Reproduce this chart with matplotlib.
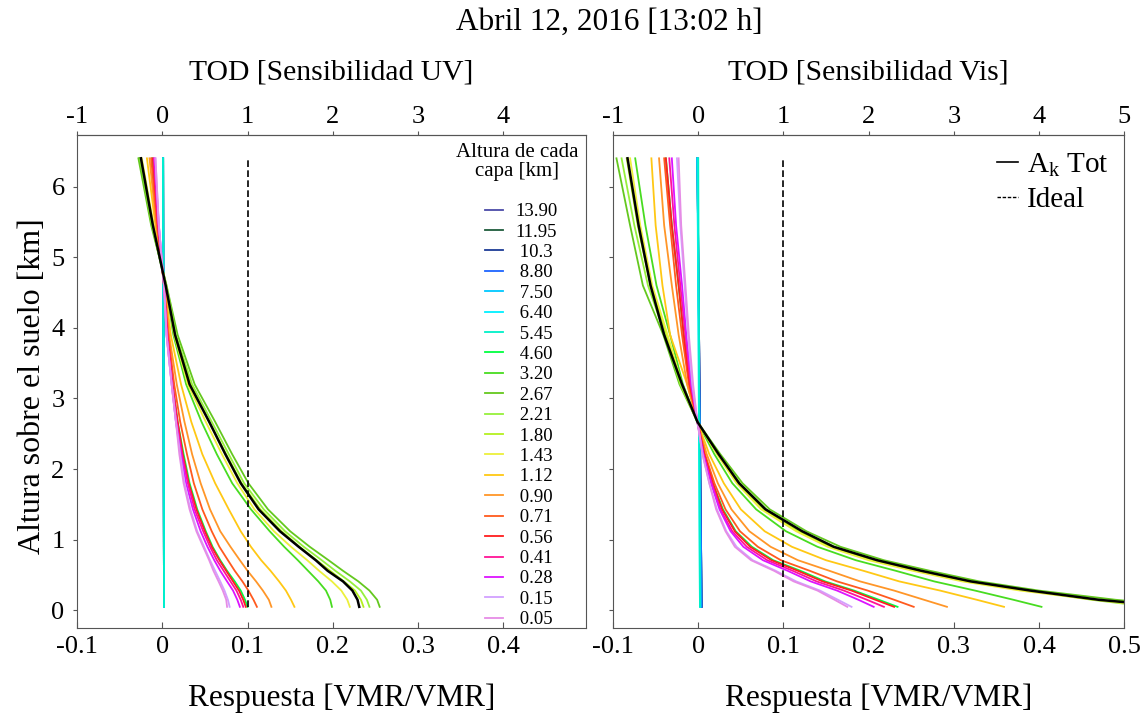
import matplotlib
matplotlib.use('Agg')
import matplotlib.pyplot as plt
from matplotlib.lines import Line2D

plt.rcParams['font.family'] = ['Liberation Serif', 'DejaVu Serif']
plt.rcParams['axes.unicode_minus'] = False
plt.rcParams['mathtext.fontset'] = 'custom'
plt.rcParams['mathtext.rm'] = 'Liberation Serif'

# alturas de la malla (km), de abajo hacia arriba
alt = [0.05, 0.15, 0.28, 0.41, 0.56, 0.71, 0.90, 1.12, 1.43, 1.80, 2.21, 2.67, 3.20, 3.90, 4.60, 5.45, 6.40]
alt_ends = [0.05, 6.40]

# capas (orden de la leyenda)
layers = ['13.90', '11.95', '10.3', '8.80', '7.50', '6.40', '5.45', '4.60', '3.20', '2.67', '2.21',
          '1.80', '1.43', '1.12', '0.90', '0.71', '0.56', '0.41', '0.28', '0.15', '0.05']
colors = ['#4b4ba8', '#1e5c3c', '#1c3c96', '#1e64ff', '#00c8ff', '#00f0ff', '#00f0c8', '#00ff40',
          '#48dc20', '#64c81e', '#96f03c', '#b4f020', '#ecf03c', '#ffc814', '#ff9628', '#ff5a1e',
          '#ff1e1e', '#ff1496', '#dc14ff', '#d2a0ff', '#e68ce6']

# capas altas: casi rectas verticales (valor abajo, valor arriba)
uv_high = [[0.002, 0.001], [0.002, 0.001], [0.002, 0.001], [0.002, 0.001],
           [0.002, 0.001], [0.002, 0.001], [0.002, 0.001]]
vis_high = [[0.004, -0.001], [0.004, -0.001], [0.004, -0.001], [0.004, -0.001],
            [0.003, -0.001], [0.002, -0.001], [0.002, 0.000]]

# capas bajas, 4.60 ... 0.05 (sobre alt)
uv_low = [
    [0.100, 0.097, 0.092, 0.085, 0.076, 0.068, 0.059, 0.051, 0.041, 0.032, 0.025, 0.018, 0.012, 0.006, 0.002, -0.005, -0.012],
    [0.199, 0.197, 0.192, 0.183, 0.171, 0.159, 0.143, 0.126, 0.104, 0.082, 0.064, 0.046, 0.028, 0.013, 0.004, -0.012, -0.027],
    [0.255, 0.252, 0.243, 0.230, 0.212, 0.195, 0.173, 0.150, 0.124, 0.101, 0.082, 0.062, 0.038, 0.018, 0.005, -0.013, -0.028],
    [0.243, 0.240, 0.233, 0.220, 0.203, 0.187, 0.166, 0.144, 0.119, 0.096, 0.078, 0.058, 0.035, 0.016, 0.005, -0.012, -0.026],
    [0.236, 0.233, 0.226, 0.213, 0.197, 0.181, 0.161, 0.140, 0.115, 0.093, 0.075, 0.055, 0.033, 0.015, 0.004, -0.011, -0.025],
    [0.220, 0.217, 0.210, 0.199, 0.184, 0.170, 0.151, 0.131, 0.108, 0.088, 0.070, 0.051, 0.030, 0.014, 0.004, -0.010, -0.024],
    [0.155, 0.151, 0.145, 0.137, 0.127, 0.116, 0.104, 0.092, 0.078, 0.062, 0.047, 0.034, 0.022, 0.010, 0.003, -0.008, -0.018],
    [0.128, 0.125, 0.118, 0.110, 0.100, 0.091, 0.080, 0.068, 0.056, 0.045, 0.035, 0.026, 0.017, 0.008, 0.003, -0.007, -0.015],
    [0.111, 0.107, 0.101, 0.094, 0.085, 0.077, 0.067, 0.058, 0.047, 0.037, 0.029, 0.021, 0.014, 0.007, 0.002, -0.006, -0.013],
    [0.098, 0.095, 0.090, 0.083, 0.075, 0.067, 0.058, 0.050, 0.040, 0.031, 0.024, 0.018, 0.012, 0.006, 0.002, -0.005, -0.011],
    [0.095, 0.092, 0.087, 0.080, 0.072, 0.064, 0.056, 0.048, 0.038, 0.030, 0.023, 0.017, 0.012, 0.006, 0.002, -0.005, -0.010],
    [0.091, 0.088, 0.083, 0.076, 0.068, 0.061, 0.053, 0.045, 0.036, 0.028, 0.022, 0.016, 0.011, 0.005, 0.002, -0.004, -0.009],
    [0.079, 0.077, 0.073, 0.068, 0.062, 0.056, 0.049, 0.041, 0.033, 0.026, 0.021, 0.016, 0.011, 0.005, 0.002, -0.004, -0.008],
    [0.076, 0.075, 0.071, 0.066, 0.060, 0.055, 0.048, 0.040, 0.032, 0.025, 0.020, 0.016, 0.011, 0.005, 0.002, -0.004, -0.008],
]
uv_tot = [0.231, 0.229, 0.223, 0.212, 0.194, 0.180, 0.160, 0.138, 0.113, 0.092, 0.074, 0.055, 0.032, 0.015, 0.004, -0.011, -0.025]

vis_low = [
    [0.234, 0.212, 0.183, 0.149, 0.120, 0.088, 0.063, 0.044, 0.029, 0.017, 0.007, -0.001, -0.010, -0.017, -0.023, -0.031, -0.038],
    [0.403, 0.370, 0.325, 0.277, 0.232, 0.185, 0.140, 0.103, 0.068, 0.040, 0.019, -0.001, -0.018, -0.033, -0.049, -0.062, -0.074],
    [0.580, 0.490, 0.400, 0.330, 0.272, 0.218, 0.167, 0.127, 0.084, 0.052, 0.026, -0.001, -0.022, -0.041, -0.065, -0.080, -0.096],
    [0.530, 0.462, 0.388, 0.321, 0.263, 0.210, 0.160, 0.121, 0.080, 0.049, 0.024, -0.001, -0.021, -0.039, -0.059, -0.075, -0.090],
    [0.548, 0.470, 0.384, 0.315, 0.257, 0.205, 0.156, 0.118, 0.077, 0.047, 0.023, -0.001, -0.020, -0.037, -0.056, -0.071, -0.084],
    [0.540, 0.465, 0.378, 0.310, 0.252, 0.200, 0.152, 0.115, 0.074, 0.045, 0.022, -0.001, -0.019, -0.036, -0.054, -0.068, -0.080],
    [0.359, 0.327, 0.284, 0.236, 0.194, 0.150, 0.110, 0.078, 0.050, 0.030, 0.013, -0.001, -0.013, -0.033, -0.042, -0.050, -0.055],
    [0.292, 0.265, 0.230, 0.190, 0.154, 0.117, 0.085, 0.060, 0.039, 0.023, 0.010, -0.001, -0.013, -0.023, -0.031, -0.040, -0.046],
    [0.253, 0.230, 0.199, 0.163, 0.131, 0.097, 0.070, 0.049, 0.032, 0.019, 0.008, -0.001, -0.011, -0.019, -0.026, -0.033, -0.040],
    [0.230, 0.208, 0.180, 0.146, 0.117, 0.086, 0.061, 0.043, 0.028, 0.017, 0.007, -0.001, -0.010, -0.017, -0.023, -0.031, -0.038],
    [0.218, 0.198, 0.171, 0.139, 0.111, 0.081, 0.057, 0.040, 0.026, 0.016, 0.006, -0.001, -0.009, -0.015, -0.021, -0.028, -0.034],
    [0.206, 0.188, 0.163, 0.132, 0.105, 0.076, 0.053, 0.038, 0.025, 0.015, 0.006, -0.001, -0.008, -0.014, -0.019, -0.026, -0.031],
    [0.180, 0.164, 0.143, 0.115, 0.091, 0.064, 0.045, 0.033, 0.022, 0.013, 0.005, -0.001, -0.007, -0.012, -0.016, -0.021, -0.025],
    [0.175, 0.160, 0.140, 0.112, 0.089, 0.062, 0.043, 0.032, 0.021, 0.013, 0.005, -0.001, -0.006, -0.011, -0.015, -0.020, -0.023],
]
vis_tot = [0.560, 0.470, 0.390, 0.320, 0.262, 0.210, 0.159, 0.122, 0.079, 0.048, 0.024, -0.001, -0.019, -0.040, -0.056, -0.070, -0.083]

ideal_x = [0.1, 0.1]

uv_xticks = [-0.1, 0, 0.1, 0.2, 0.3, 0.4]
uv_xlabels = ['-0.1', '0', '0.1', '0.2', '0.3', '0.4']
uv_top = [-1, 0, 1, 2, 3, 4]
vis_xticks = [-0.1, 0, 0.1, 0.2, 0.3, 0.4, 0.5]
vis_xlabels = ['-0.1', '0', '0.1', '0.2', '0.3', '0.4', '0.5']
vis_top = [-1, 0, 1, 2, 3, 4, 5]
yticks = [0, 1, 2, 3, 4, 5, 6]

fig = plt.figure(figsize=(11.41, 7.17), dpi=100)
ax1 = fig.add_axes([0.0675, 0.1241, 0.4461, 0.6876])
ax2 = fig.add_axes([0.5373, 0.1241, 0.4479, 0.6876])


def draw(ax, high, low, tot):
    hs = []
    n_high = len(high)
    for i in range(len(layers)):
        if i < n_high:
            l, = ax.plot(high[i], alt_ends, color=colors[i], lw=1.3)
        else:
            l, = ax.plot(low[i - n_high], alt, color=colors[i], lw=1.3)
        hs.append(l)
    ax.plot(tot, alt, color='black', lw=1.8)
    ax.plot(ideal_x, alt_ends, color='black', lw=1.2, ls=(0, (4, 2)))
    return hs


hs = draw(ax1, uv_high, uv_low, uv_tot)
draw(ax2, vis_high, vis_low, vis_tot)

setup = [(ax1, uv_xticks, uv_xlabels, uv_top, (-0.1, 0.497), 'TOD [Sensibilidad UV]'),
         (ax2, vis_xticks, vis_xlabels, vis_top, (-0.1, 0.5), 'TOD [Sensibilidad Vis]')]
for ax, xt, xl, tt, lim, name in setup:
    ax.set_xlim(lim)
    ax.set_ylim(-0.25, 6.73)
    ax.set_xticks(xt)
    ax.set_xticklabels(xl, fontsize=19)
    ax.set_yticks(yticks)
    ax.tick_params(axis='x', direction='in', length=4, pad=6, color='#555555')
    ax.tick_params(axis='y', direction='out', length=3, pad=6, color='#555555', labelsize=19)
    for s in ax.spines.values():
        s.set_color('#555555')
    sec = ax.secondary_xaxis('top', functions=(lambda x: x * 10, lambda x: x / 10))
    sec.set_xticks(tt)
    sec.set_xticklabels([str(t) for t in tt], fontsize=19)
    sec.tick_params(direction='out', length=3, pad=2, color='#555555')
    sec.spines['top'].set_color('#555555')
    ax.text(0.5, 1.126, name, transform=ax.transAxes, ha='center', va='center', fontsize=21.3)
    ax.set_xlabel('Respuesta [VMR/VMR]', fontsize=22.6)
    ax.xaxis.set_label_coords(0.52, -0.113)

ax2.set_yticklabels([])
ax1.set_ylabel('Altura sobre el suelo [km]', fontsize=23)
ax1.yaxis.set_label_coords(-0.059, 0.49)

# leyenda de capas: titulo aparte para controlar la posicion
ax1.text(0.8645, 0.945, 'Altura de cada\ncapa [km]', transform=ax1.transAxes, ha='center',
         va='center', fontsize=15, linespacing=0.95)
labels = [s if len(s) == 5 else ' ' + s for s in layers]
ax1.legend(hs, labels, loc='upper left', bbox_to_anchor=(0.8016, 0.862), frameon=False,
           fontsize=13.5, handlelength=0.95, handletextpad=0.65, labelspacing=0.175,
           borderaxespad=0, borderpad=0)

tot_h = Line2D([], [], color='black', lw=1.2)
ideal_h = Line2D([], [], color='black', lw=1.0, ls=(0, (2.5, 1.2)))
ax2.legend([tot_h, ideal_h], [r'A$_\mathregular{k}$ Tot', 'Ideal'], loc='upper right',
           bbox_to_anchor=(1.015, 1.015), frameon=False, fontsize=21, handlelength=0.7,
           handletextpad=0.3, labelspacing=0.27, borderaxespad=0.4)

fig.text(0.534, 0.969, 'Abril 12, 2016 [13:02 h]', ha='center', va='center', fontsize=22.5)

fig.savefig('out.png', dpi=100)
